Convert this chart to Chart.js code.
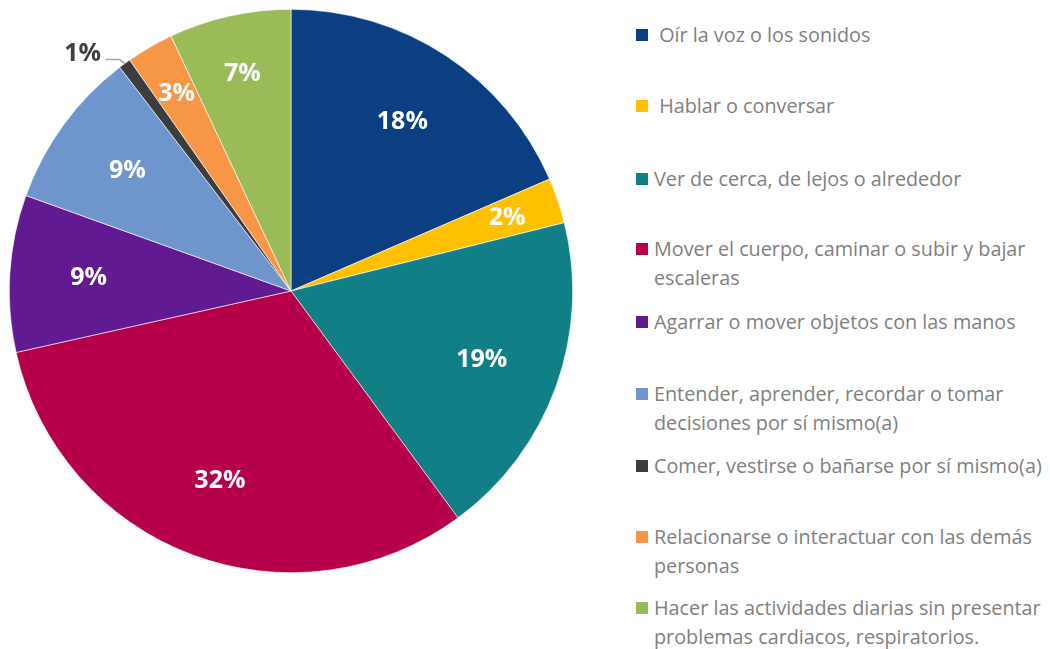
<!DOCTYPE html>
<html>
<head>
<meta charset="utf-8">
<script src="https://cdn.jsdelivr.net/npm/chart.js@4.4.1/dist/chart.umd.min.js"></script>
<style>
  body { margin: 0; background: #fff; width: 1050px; height: 649px; overflow: hidden; position: relative; }
  #pieBox { position: absolute; left: 9px; top: 9px; width: 564px; height: 564px; }
  #legend { position: absolute; left: 636px; top: 0; width: 414px; font-family: "Open Sans", sans-serif; font-size: 19.8px; color: #7f7f7f; }
  .item { position: absolute; left: 0; width: 420px; line-height: 29px; padding-left: 18px; white-space: normal; }
  .item i { position: absolute; left: 0; top: 9px; width: 12px; height: 12px; }
</style>
</head>
<body>
<div id="pieBox"><canvas id="pieChart"></canvas></div>
<div id="legend"></div>
<script>
var categorias = [
  " Oír la voz o los sonidos",
  " Hablar o conversar",
  "Ver de cerca, de lejos o alrededor",
  "Mover el cuerpo, caminar o subir y bajar escaleras",
  "Agarrar o mover objetos con las manos",
  "Entender, aprender, recordar o tomar decisiones por sí mismo(a)",
  "Comer, vestirse o bañarse por sí mismo(a)",
  "Relacionarse o interactuar con las demás personas",
  "Hacer las actividades diarias sin presentar problemas cardiacos, respiratorios."
];
var valores = [18.5, 2.6, 18.8, 31.6, 9.0, 9.1, 0.7, 2.7, 7.0];
var etiquetas = ["18%", "2%", "19%", "32%", "9%", "9%", "1%", "3%", "7%"];
var colores = ["#0c3e82", "#ffc000", "#118086", "#b6004a", "#621a92", "#6e96cc", "#3d3d3d", "#f79646", "#9bbb59"];

// legend tops (px) for each item
var legendTops = [20, 91, 164, 234, 307, 379, 451, 522, 593];
// forced line breaks to match the original wrapping
var legendBreaks = [null, null, null, "bajar ", "manos", "tomar ", null, "demás ", "presentar "];

var legendDiv = document.getElementById('legend');
for (var i = 0; i < categorias.length; i++) {
  var it = document.createElement('div');
  it.className = 'item';
  it.style.top = legendTops[i] + 'px';
  var txt = categorias[i].replace(/^ /, '&nbsp;');
  if (legendBreaks[i] && legendBreaks[i].slice(-1) === ' ') {
    txt = txt.replace(legendBreaks[i], legendBreaks[i].trim() + '<br>');
  }
  it.innerHTML = '<i style="background:' + colores[i] + '"></i>' + txt;
  legendDiv.appendChild(it);
}

var labelPlugin = {
  id: 'pctLabels',
  afterDatasetsDraw: function(chart) {
    var ctx = chart.ctx;
    var meta = chart.getDatasetMeta(0);
    ctx.save();
    ctx.font = 'bold 25px "Open Sans", sans-serif';
    ctx.textAlign = 'center';
    ctx.textBaseline = 'middle';
    meta.data.forEach(function(arc, i) {
      var mid = (arc.startAngle + arc.endAngle) / 2;
      var r = arc.outerRadius;
      if (valores[i] < 1.5) {
        // outside label with leader line
        var ex = arc.x + Math.cos(mid) * r;
        var ey = arc.y + Math.sin(mid) * r;
        ctx.strokeStyle = '#a6a6a6';
        ctx.lineWidth = 1.5;
        ctx.beginPath();
        ctx.moveTo(ex, ey);
        ctx.lineTo(ex - 5, ey - 4);
        ctx.lineTo(ex - 19, ey - 4);
        ctx.stroke();
        ctx.fillStyle = '#404040';
        ctx.fillText(etiquetas[i], ex - 42, ey - 10);
      } else {
        var f = valores[i] < 4 ? 0.81 : (valores[i] < 8 ? 0.79 : 0.72);
        ctx.fillStyle = '#ffffff';
        ctx.fillText(etiquetas[i], arc.x + Math.cos(mid) * r * f, arc.y + Math.sin(mid) * r * f);
      }
    });
    ctx.restore();
  }
};

new Chart(document.getElementById('pieChart'), {
  type: 'pie',
  data: {
    labels: categorias,
    datasets: [{
      data: valores,
      backgroundColor: colores,
      borderColor: '#ffffff',
      borderWidth: 0.6
    }]
  },
  options: {
    responsive: true,
    maintainAspectRatio: false,
    animation: false,
    layout: { padding: 0 },
    plugins: {
      legend: { display: false },
      tooltip: { enabled: false }
    }
  },
  plugins: [labelPlugin]
});
</script>
</body>
</html>
